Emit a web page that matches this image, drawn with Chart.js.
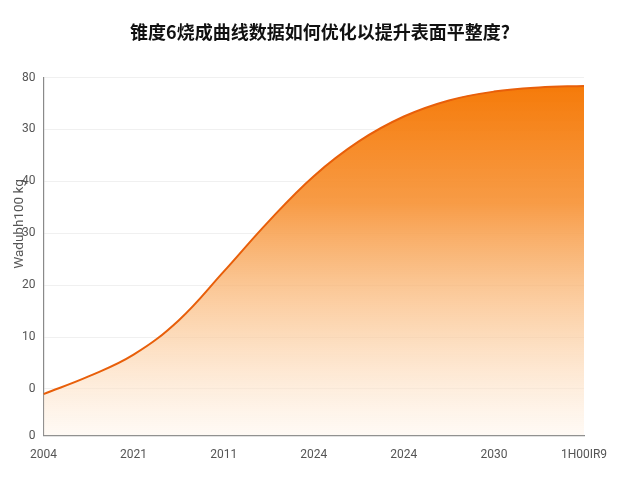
<!DOCTYPE html>
<html>
<head>
<meta charset="utf-8">
<script src="https://cdn.jsdelivr.net/npm/chart.js@4"></script>
<style>
  html, body { margin: 0; padding: 0; background: #fff; }
  #wrap { width: 640px; height: 480px; }
</style>
</head>
<body>
<div id="wrap"><canvas id="curve" width="640" height="480"></canvas></div>
<script>
// categories along the bottom (as printed)
const xLabels = ['2004', '2021', '2011', '2024', '2024', '2030', '1H00IR9'];
// curve samples, x in category steps
const curveX = [0, 0.5, 1, 1.5, 2, 2.5, 3, 3.5, 4, 4.5, 5, 5.5, 6];
const curveY = [-1, 2.4, 6.6, 13.2, 22.6, 32.3, 41.0, 47.7, 52.5, 55.6, 57.3, 58.1, 58.4];
// y axis ticks and the text printed next to them
const yTickValues = [-9, 0, 10, 20, 30, 40, 50, 60];
const yTickLabels = ['0', '0', '10', '20', '30', '40', '30', '80'];

const chartTitle = '锥度6烧成曲线数据如何优化以提升表面平整度?';
const yTitle = 'Wadubh100 kg';

const points = curveX.map((x, i) => ({ x: x, y: curveY[i] }));

const ctx = document.getElementById('curve');

// vertical fade, orange on top to almost white at the axis
function areaFill(context) {
    const chart = context.chart;
    const area = chart.chartArea;
    if (!area) return 'rgba(245,125,10,0.5)';
    const g = chart.ctx.createLinearGradient(0, area.top, 0, area.bottom);
    g.addColorStop(0, 'rgba(245,120,5,1)');
    g.addColorStop(0.35, 'rgba(247,150,60,0.95)');
    g.addColorStop(0.7, 'rgba(251,200,150,0.7)');
    g.addColorStop(1, 'rgba(255,245,235,0.5)');
    return g;
}

// title centred on the canvas, y title drawn beside the axis
const titles = {
    id: 'titles',
    beforeDraw(chart) {
        if (chart.titleBlock) {
            chart.titleBlock.left = 0;
            chart.titleBlock.right = chart.width;
            chart.titleBlock.width = chart.width;
        }
    },
    afterDraw(chart) {
        const c = chart.ctx;
        c.save();
        c.translate(20, 224);
        c.rotate(-Math.PI / 2);
        c.fillStyle = '#555';
        c.font = '13.5px Roboto, sans-serif';
        c.textAlign = 'center';
        c.textBaseline = 'middle';
        c.fillText(yTitle, 0, 0);
        c.restore();
    }
};

new Chart(ctx, {
    type: 'line',
    data: {
        datasets: [{
            data: points,
            borderColor: 'rgb(232,95,10)',
            borderWidth: 2,
            backgroundColor: areaFill,
            fill: 'start',
            pointRadius: 0,
            tension: 0.4,
        }]
    },
    options: {
        responsive: false,
        animation: false,
        layout: { padding: { top: 14, right: 56, left: 14, bottom: 14 } },
        plugins: {
            legend: { display: false },
            tooltip: { enabled: false },
            title: {
                display: true,
                text: chartTitle,
                color: '#111',
                font: { family: '"Noto Sans CJK SC", sans-serif', size: 18, weight: 'bold' },
                padding: { top: 7, bottom: 35 }
            }
        },
        scales: {
            x: {
                type: 'linear',
                min: 0,
                max: xLabels.length - 1,
                afterBuildTicks: (axis) => {
                    axis.ticks = xLabels.map((_, i) => ({ value: i }));
                },
                ticks: {
                    autoSkip: false,
                    maxRotation: 0,
                    color: '#555',
                    font: { family: 'Roboto, sans-serif', size: 12 },
                    padding: 4,
                    callback: (v) => xLabels[v]
                },
                grid: { display: false },
                border: { display: true, color: '#8a8a8a', width: 1.2 }
            },
            y: {
                min: yTickValues[0],
                max: yTickValues[yTickValues.length - 1],
                afterBuildTicks: (axis) => {
                    axis.ticks = yTickValues.map((v) => ({ value: v }));
                },
                ticks: {
                    color: '#555',
                    font: { family: 'Roboto, sans-serif', size: 12 },
                    padding: 8,
                    callback: (v) => yTickLabels[yTickValues.indexOf(v)]
                },
                grid: { color: '#f0f0f0', drawTicks: false },
                border: { display: true, color: '#8a8a8a', width: 1.2 }
            }
        }
    },
    plugins: [titles]
});
</script>
</body>
</html>
